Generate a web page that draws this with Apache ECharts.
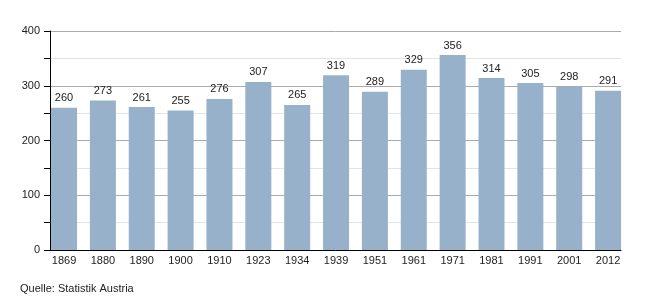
<!DOCTYPE html>
<html><head><meta charset="utf-8">
<script src="https://cdn.jsdelivr.net/npm/echarts@6/dist/echarts.min.js"></script>
<style>html,body{margin:0;padding:0;background:#fff}#c{width:650px;height:300px}</style>
</head><body><div id="c"></div>
<script>
var categories = ['1869','1880','1890','1900','1910','1923','1934','1939','1951','1961','1971','1981','1991','2001','2012'];
var values = [260,273,261,255,276,307,265,319,289,329,356,314,305,298,291];
var yTicks = [0,100,200,300,400];
var sourceText = 'Quelle: Statistik Austria';

var chart = echarts.init(document.getElementById('c'), null, {renderer:'canvas'});
chart.setOption({
  animation:false,
  textStyle:{fontFamily:'Liberation Sans, Arial, sans-serif'},
  graphic:[{type:'text',left:20,top:283,style:{text:sourceText,font:'11px Liberation Sans, Arial, sans-serif',fill:'#222'}}],
  grid:[
    {left:44.6,right:22.5,top:31,bottom:50,containLabel:false},
    {left:50,right:29,top:31,bottom:50,containLabel:false}
  ],
  xAxis:[
    {type:'category',data:categories,gridIndex:0,
     axisLine:{show:false},axisTick:{show:false},
     axisLabel:{color:'#222',fontSize:11,margin:5}},
    {type:'category',data:categories,gridIndex:1,
     axisLine:{show:true,lineStyle:{color:'#000',width:1}},axisTick:{show:false},axisLabel:{show:false}}
  ],
  yAxis:[
    {type:'value',min:0,max:400,interval:50,gridIndex:0,show:false,splitLine:{show:false}},
    {type:'value',min:0,max:400,interval:50,gridIndex:1,z:0,
     axisLine:{show:true,lineStyle:{color:'#000'}},
     axisTick:{show:true,length:6,lineStyle:{color:'#000'}},
     axisLabel:{color:'#222',fontSize:11,margin:10,formatter:function(v){return yTicks.indexOf(v)>=0?String(v):'';}},
     splitLine:{show:true,lineStyle:{color:['#aaaaaa','#e3e3e3'],width:1}}}
  ],
  series:[{type:'bar',data:values,xAxisIndex:0,yAxisIndex:0,barWidth:26,
    itemStyle:{color:'#98b1cb'},
    label:{show:true,position:'top',color:'#222',fontSize:11,distance:4}}]
});
</script></body></html>
